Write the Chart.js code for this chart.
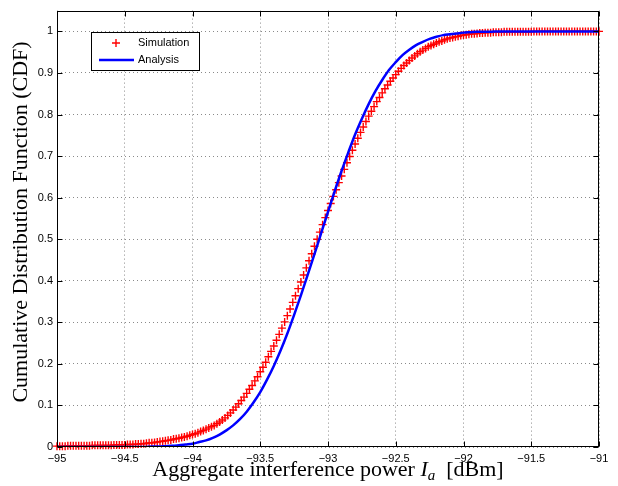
<!DOCTYPE html>
<html>
<head>
<meta charset="utf-8">
<script src="https://cdn.jsdelivr.net/npm/chart.js@4.4.1/dist/chart.umd.min.js"></script>
<style>
    html, body { margin: 0; padding: 0; background: #fff; }
    canvas { display: block; }
</style>
</head>
<body>
<canvas class="cdf_chart" width="618" height="486"></canvas>
<script>
// simulated CDF, sampled every 0.02 dB
const sim_x = [
    -95.00, -94.98, -94.96, -94.94, -94.92, -94.90, -94.88, -94.86, -94.84, -94.82,
    -94.80, -94.78, -94.76, -94.74, -94.72, -94.70, -94.68, -94.66, -94.64, -94.62,
    -94.60, -94.58, -94.56, -94.54, -94.52, -94.50, -94.48, -94.46, -94.44, -94.42,
    -94.40, -94.38, -94.36, -94.34, -94.32, -94.30, -94.28, -94.26, -94.24, -94.22,
    -94.20, -94.18, -94.16, -94.14, -94.12, -94.10, -94.08, -94.06, -94.04, -94.02,
    -94.00, -93.98, -93.96, -93.94, -93.92, -93.90, -93.88, -93.86, -93.84, -93.82,
    -93.80, -93.78, -93.76, -93.74, -93.72, -93.70, -93.68, -93.66, -93.64, -93.62,
    -93.60, -93.58, -93.56, -93.54, -93.52, -93.50, -93.48, -93.46, -93.44, -93.42,
    -93.40, -93.38, -93.36, -93.34, -93.32, -93.30, -93.28, -93.26, -93.24, -93.22,
    -93.20, -93.18, -93.16, -93.14, -93.12, -93.10, -93.08, -93.06, -93.04, -93.02,
    -93.00, -92.98, -92.96, -92.94, -92.92, -92.90, -92.88, -92.86, -92.84, -92.82,
    -92.80, -92.78, -92.76, -92.74, -92.72, -92.70, -92.68, -92.66, -92.64, -92.62,
    -92.60, -92.58, -92.56, -92.54, -92.52, -92.50, -92.48, -92.46, -92.44, -92.42,
    -92.40, -92.38, -92.36, -92.34, -92.32, -92.30, -92.28, -92.26, -92.24, -92.22,
    -92.20, -92.18, -92.16, -92.14, -92.12, -92.10, -92.08, -92.06, -92.04, -92.02,
    -92.00, -91.98, -91.96, -91.94, -91.92, -91.90, -91.88, -91.86, -91.84, -91.82,
    -91.80, -91.78, -91.76, -91.74, -91.72, -91.70, -91.68, -91.66, -91.64, -91.62,
    -91.60, -91.58, -91.56, -91.54, -91.52, -91.50, -91.48, -91.46, -91.44, -91.42,
    -91.40, -91.38, -91.36, -91.34, -91.32, -91.30, -91.28, -91.26, -91.24, -91.22,
    -91.20, -91.18, -91.16, -91.14, -91.12, -91.10, -91.08, -91.06, -91.04, -91.02,
    -91.00,
];
const sim_cdf = [
    0.002, 0.002, 0.002, 0.002, 0.003, 0.003, 0.003, 0.003, 0.003, 0.003,
    0.003, 0.003, 0.003, 0.004, 0.004, 0.004, 0.004, 0.004, 0.004, 0.004,
    0.004, 0.005, 0.005, 0.005, 0.005, 0.005, 0.006, 0.006, 0.006, 0.007,
    0.007, 0.008, 0.008, 0.009, 0.010, 0.010, 0.011, 0.012, 0.013, 0.014,
    0.015, 0.016, 0.017, 0.019, 0.020, 0.021, 0.023, 0.024, 0.026, 0.028,
    0.030, 0.032, 0.034, 0.037, 0.040, 0.043, 0.046, 0.049, 0.052, 0.056,
    0.060, 0.065, 0.070, 0.076, 0.082, 0.089, 0.096, 0.104, 0.112, 0.120,
    0.129, 0.139, 0.148, 0.159, 0.169, 0.181, 0.192, 0.204, 0.217, 0.230,
    0.243, 0.257, 0.271, 0.286, 0.301, 0.316, 0.332, 0.348, 0.364, 0.381,
    0.397, 0.414, 0.431, 0.448, 0.465, 0.483, 0.500, 0.517, 0.535, 0.552,
    0.569, 0.586, 0.603, 0.619, 0.636, 0.652, 0.668, 0.684, 0.699, 0.714,
    0.729, 0.743, 0.757, 0.770, 0.783, 0.796, 0.808, 0.819, 0.831, 0.841,
    0.852, 0.862, 0.871, 0.880, 0.888, 0.896, 0.904, 0.911, 0.918, 0.924,
    0.930, 0.936, 0.941, 0.946, 0.951, 0.955, 0.959, 0.963, 0.966, 0.969,
    0.972, 0.975, 0.977, 0.980, 0.982, 0.984, 0.985, 0.987, 0.988, 0.990,
    0.991, 0.992, 0.993, 0.994, 0.994, 0.995, 0.996, 0.996, 0.997, 0.997,
    0.997, 0.998, 0.998, 0.998, 0.998, 0.999, 0.999, 0.999, 0.999, 0.999,
    0.999, 0.999, 0.999, 0.999, 0.999, 0.999, 1.000, 1.000, 1.000, 1.000,
    1.000, 1.000, 1.000, 1.000, 1.000, 1.000, 1.000, 1.000, 1.000, 1.000,
    1.000, 1.000, 1.000, 1.000, 1.000, 1.000, 1.000, 1.000, 1.000, 1.000,
    1.000,
];

// analytical CDF, every 0.05 dB
const ana_x = [
    -95.00, -94.95, -94.90, -94.85, -94.80, -94.75, -94.70, -94.65, -94.60, -94.55,
    -94.50, -94.45, -94.40, -94.35, -94.30, -94.25, -94.20, -94.15, -94.10, -94.05,
    -94.00, -93.95, -93.90, -93.85, -93.80, -93.75, -93.70, -93.65, -93.60, -93.55,
    -93.50, -93.45, -93.40, -93.35, -93.30, -93.25, -93.20, -93.15, -93.10, -93.05,
    -93.00, -92.95, -92.90, -92.85, -92.80, -92.75, -92.70, -92.65, -92.60, -92.55,
    -92.50, -92.45, -92.40, -92.35, -92.30, -92.25, -92.20, -92.15, -92.10, -92.05,
    -92.00, -91.95, -91.90, -91.85, -91.80, -91.75, -91.70, -91.65, -91.60, -91.55,
    -91.50, -91.45, -91.40, -91.35, -91.30, -91.25, -91.20, -91.15, -91.10, -91.05,
    -91.00,
];
const ana_cdf = [
    0.000, 0.000, 0.000, 0.000, 0.000, 0.000, 0.000, 0.000, 0.000, 0.000,
    0.000, 0.000, 0.000, 0.000, 0.001, 0.001, 0.002, 0.003, 0.004, 0.006,
    0.008, 0.012, 0.016, 0.022, 0.030, 0.040, 0.052, 0.067, 0.085, 0.107,
    0.132, 0.162, 0.195, 0.232, 0.273, 0.318, 0.365, 0.414, 0.464, 0.515,
    0.566, 0.616, 0.664, 0.709, 0.752, 0.790, 0.825, 0.856, 0.883, 0.907,
    0.926, 0.943, 0.956, 0.967, 0.975, 0.982, 0.987, 0.991, 0.993, 0.995,
    0.997, 0.998, 0.999, 0.999, 0.999, 1.000, 1.000, 1.000, 1.000, 1.000,
    1.000, 1.000, 1.000, 1.000, 1.000, 1.000, 1.000, 1.000, 1.000, 1.000,
    1.000,
];

const x_ticks = [-95, -94.5, -94, -93.5, -93, -92.5, -92, -91.5, -91];
const x_tick_labels = ['\u221295', '\u221294.5', '\u221294', '\u221293.5', '\u221293', '\u221292.5', '\u221292', '\u221291.5', '\u221291'];
const y_ticks = [0, 0.1, 0.2, 0.3, 0.4, 0.5, 0.6, 0.7, 0.8, 0.9, 1];
const y_tick_labels = ['0', '0.1', '0.2', '0.3', '0.4', '0.5', '0.6', '0.7', '0.8', '0.9', '1'];

const legend_labels = ['Simulation', 'Analysis'];
const y_title = 'Cumulative Distribution Function (CDF)';

const tick_font = { family: 'Liberation Sans', size: 11 };

const ctx = document.querySelector('.cdf_chart').getContext('2d');

const frame_and_text = {
    id: 'frame_and_text',
    afterDraw(chart) {
        const { ctx, chartArea: a, scales } = chart;
        const l = Math.round(a.left) + 0.5, r = Math.round(a.right) - 0.5;
        const t = Math.round(a.top) + 0.5, b = Math.round(a.bottom) - 0.5;
        ctx.save();
        ctx.strokeStyle = '#000';
        ctx.lineWidth = 1;
        ctx.strokeRect(l, t, r - l, b - t);

        // inward ticks like matlab
        ctx.beginPath();
        x_ticks.forEach(v => {
            const px = Math.round(scales.x.getPixelForValue(v)) + 0.5;
            ctx.moveTo(px, b); ctx.lineTo(px, b - 5);
            ctx.moveTo(px, t); ctx.lineTo(px, t + 5);
        });
        y_ticks.forEach(v => {
            const py = Math.round(scales.y.getPixelForValue(v)) + 0.5;
            ctx.moveTo(l, py); ctx.lineTo(l + 5, py);
            ctx.moveTo(r, py); ctx.lineTo(r - 5, py);
        });
        ctx.stroke();

        // legend box
        ctx.fillStyle = '#fff';
        ctx.fillRect(91, 32, 108, 38);
        ctx.strokeRect(91.5, 32.5, 108, 38);
        ctx.strokeStyle = '#ff0000';
        ctx.lineWidth = 1.4;
        ctx.beginPath();
        ctx.moveTo(112, 43); ctx.lineTo(120, 43);
        ctx.moveTo(116, 39); ctx.lineTo(116, 47);
        ctx.stroke();
        ctx.strokeStyle = '#0000ff';
        ctx.lineWidth = 2.5;
        ctx.beginPath();
        ctx.moveTo(99, 60); ctx.lineTo(134, 60);
        ctx.stroke();
        ctx.fillStyle = '#000';
        ctx.font = '11px "Liberation Sans"';
        ctx.textBaseline = 'middle';
        ctx.textAlign = 'left';
        ctx.fillText(legend_labels[0], 138, 43);
        ctx.fillText(legend_labels[1], 138, 60);

        // x axis title with italic I_a
        const serif = '"Liberation Serif"';
        const parts = [
            { s: 'Aggregate interference power ', f: '22px ' + serif, dy: 0 },
            { s: 'I', f: 'italic 22px ' + serif, dy: 0 },
            { s: 'a', f: 'italic 15px ' + serif, dy: 4 },
            { s: '  [dBm]', f: '22px ' + serif, dy: 0 },
        ];
        let w = 0;
        parts.forEach(p => { ctx.font = p.f; w += ctx.measureText(p.s).width; });
        let x0 = (a.left + a.right) / 2 - w / 2;
        ctx.textBaseline = 'alphabetic';
        parts.forEach(p => {
            ctx.font = p.f;
            ctx.fillText(p.s, x0, 476 + p.dy);
            x0 += ctx.measureText(p.s).width;
        });

        // y axis title
        ctx.translate(21, 222);
        ctx.rotate(-Math.PI / 2);
        ctx.font = '22px ' + serif;
        ctx.textAlign = 'center';
        ctx.textBaseline = 'middle';
        ctx.fillText(y_title, 0, 0);
        ctx.restore();
    },
};

const cdf_chart = new Chart(ctx, {
    type: 'line',
    data: {
        datasets: [{
            label: legend_labels[0],
            data: sim_x.map((x, i) => ({ x: x, y: sim_cdf[i] })),
            showLine: false,
            pointStyle: 'cross',
            pointRadius: 4,
            pointBorderWidth: 1.4,
            pointBorderColor: '#ff0000',
            pointBackgroundColor: '#ff0000',
            clip: false,
            order: 2,
        }, {
            label: legend_labels[1],
            data: ana_x.map((x, i) => ({ x: x, y: ana_cdf[i] })),
            borderColor: '#0000ff',
            borderWidth: 2.5,
            pointRadius: 0,
            cubicInterpolationMode: 'monotone',
            order: 1,
        }],
    },
    options: {
        responsive: false,
        animation: false,
        layout: { padding: { left: 0, right: 19, top: 4, bottom: 0 } },
        plugins: {
            legend: { display: false },
            tooltip: { enabled: false },
        },
        scales: {
            x: {
                type: 'linear',
                min: -95,
                max: -91,
                afterFit(scale) { scale.height = 39; },
                afterBuildTicks(scale) { scale.ticks = x_ticks.map(v => ({ value: v })); },
                ticks: {
                    font: tick_font,
                    color: '#000',
                    padding: 5,
                    maxRotation: 0,
                    callback: (v) => x_tick_labels[x_ticks.indexOf(v)],
                },
                grid: { color: '#8a8a8a', lineWidth: 1, drawTicks: false },
                border: { display: false, dash: [1, 3] },
            },
            y: {
                type: 'linear',
                min: 0,
                max: 1.05,
                afterFit(scale) { scale.width = 57; },
                afterBuildTicks(scale) { scale.ticks = y_ticks.map(v => ({ value: v })); },
                ticks: {
                    font: tick_font,
                    color: '#000',
                    padding: 4,
                    callback: (v) => y_tick_labels[y_ticks.indexOf(v)],
                },
                grid: { color: '#8a8a8a', lineWidth: 1, drawTicks: false },
                border: { display: false, dash: [1, 3] },
            },
        },
    },
    plugins: [frame_and_text],
});
</script>
</body>
</html>
